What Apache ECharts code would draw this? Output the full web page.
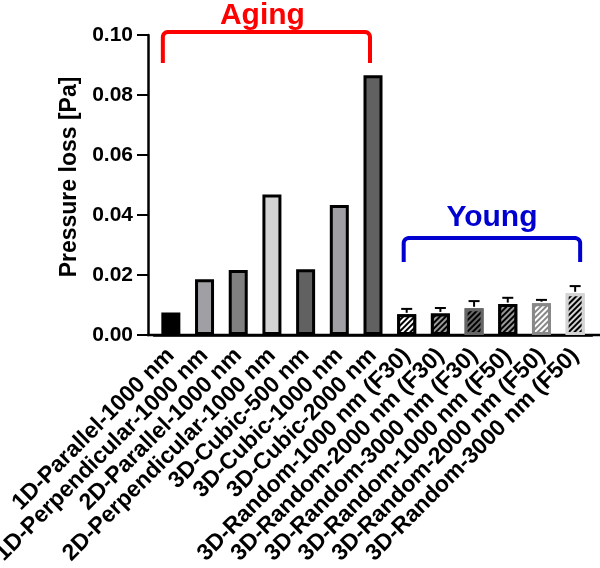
<!DOCTYPE html>
<html>
<head>
<meta charset="utf-8">
<script src="https://cdn.jsdelivr.net/npm/echarts@6/dist/echarts.min.js"></script>
<style>html,body{margin:0;padding:0;background:#fff;}#c{width:600px;height:568px;}</style>
</head>
<body>
<div id="c"></div>
<script>
const categories = [
  '1D-Parallel-1000 nm', '1D-Perpendicular-1000 nm', '2D-Parallel-1000 nm',
  '2D-Perpendicular-1000 nm', '3D-Cubic-500 nm', '3D-Cubic-1000 nm', '3D-Cubic-2000 nm',
  '3D-Random-1000 nm (F30)', '3D-Random-2000 nm (F30)', '3D-Random-3000 nm (F30)',
  '3D-Random-1000 nm (F50)', '3D-Random-2000 nm (F50)', '3D-Random-3000 nm (F50)'
];
const values = [0.0075, 0.0186, 0.0217, 0.0468, 0.0219, 0.0433, 0.0866,
                0.0069, 0.0072, 0.0089, 0.0103, 0.0106, 0.0139];
const errors = [null, null, null, null, null, null, null,
                0.0018, 0.0018, 0.0024, 0.0021, 0.0011, 0.0024];
const yTicks = [0, 0.02, 0.04, 0.06, 0.08, 0.10];
const groupLabels = ['Aging', 'Young'];

// styles (not data)
const fills = ['#000000', '#a0a0a4', '#808080', '#d4d4d4', '#616161', '#a0a0a4', '#616161',
               '#ffffff', '#000000', '#666666', '#000000', '#888888', '#d4d4d4'];
const borders = ['#000', '#000', '#000', '#000', '#000', '#000', '#000',
                 '#000000', '#000000', '#666666', '#000000', '#888888', '#d4d4d4'];
const stripes = [null, null, null, null, null, null, null,
                 '#000000', '#9a9a9a', '#000000', '#9a9a9a', '#ffffff', '#000000'];

const chart = echarts.init(document.getElementById('c'));
const FONT = '"Liberation Sans", Arial, sans-serif';

const barData = values.map((v, i) => {
  const it = { value: v, itemStyle: { color: fills[i], borderColor: borders[i], borderWidth: 3 } };
  if (stripes[i]) {
    it.itemStyle.decal = {
      symbol: 'rect', symbolSize: 1, color: stripes[i], backgroundColor: fills[i],
      dashArrayX: [1, 0], dashArrayY: [2, 2], rotation: -Math.PI / 4
    };
  }
  return it;
});

const errData = values.map((v, i) => [i, v, errors[i]]).filter(d => d[2] != null);

const option = {
  animation: false,
  backgroundColor: '#fff',
  grid: { left: 154, right: 8, top: 35, bottom: 233, containLabel: false, outerBoundsMode: 'none' },
  xAxis: {
    type: 'category', data: categories,
    axisLine: { lineStyle: { color: '#000', width: 2.5 } },
    axisTick: { alignWithLabel: true, length: 10, lineStyle: { color: '#000', width: 2 } },
    axisLabel: { interval: 0, rotate: 45, margin: 17, color: '#000', fontWeight: 'bold',
                 fontSize: 23, fontFamily: FONT }
  },
  yAxis: {
    type: 'value', min: 0, max: 0.1, interval: 0.02, offset: 6,
    name: 'Pressure loss [Pa]', nameLocation: 'middle', nameGap: 54,
    nameTextStyle: { color: '#000', fontWeight: 'bold', fontSize: 23, fontFamily: FONT,
                     padding: [0, 0, 0, 16] },
    axisLine: { show: true, lineStyle: { color: '#000', width: 2.5 } },
    axisTick: { show: true, length: 11, lineStyle: { color: '#000', width: 2 } },
    splitLine: { show: false },
    axisLabel: { color: '#000', fontWeight: 'bold', fontSize: 21, fontFamily: FONT, margin: 15,
                 formatter: v => v.toFixed(2) }
  },
  series: [
    { type: 'bar', data: barData, barWidth: 19 },
    {
      type: 'custom', data: errData, z: 3,
      renderItem: function (params, api) {
        const x = api.value(0), v = api.value(1), e = api.value(2);
        const p0 = api.coord([x, v]);
        const p1 = api.coord([x, v + e]);
        const style = { stroke: '#000', lineWidth: 2 };
        return { type: 'group', children: [
          { type: 'line', shape: { x1: p0[0], y1: p0[1] - 1.5, x2: p1[0], y2: p1[1] }, style },
          { type: 'line', shape: { x1: p1[0] - 5.5, y1: p1[1], x2: p1[0] + 5.5, y2: p1[1] }, style }
        ]};
      }
    }
  ]
};
chart.setOption(option);

// decorations: axis extension and group brackets
const px = (i, v) => chart.convertToPixel({ xAxisIndex: 0, yAxisIndex: 0 }, [i, v]);
const a0 = px(0, 0.101), a1 = px(6, 0.0907);
const y0 = px(7, 0.0323), y1 = px(12, 0.0243);
const base = px(0, 0);
function bracket(xl, xr, yt, yb, color) {
  const r = 5, pts = [[xl, yb]];
  for (let k = 0; k <= 6; k++) {
    const t = Math.PI - k * Math.PI / 12;
    pts.push([xl + r + r * Math.cos(t), yt + r - r * Math.sin(t)]);
  }
  for (let k = 0; k <= 6; k++) {
    const t = Math.PI / 2 - k * Math.PI / 12;
    pts.push([xr - r + r * Math.cos(t), yt + r - r * Math.sin(t)]);
  }
  pts.push([xr, yb]);
  return { type: 'polyline', silent: true, shape: { points: pts },
           style: { fill: null, stroke: color, lineWidth: 4, lineJoin: 'round' } };
}
const ax0 = a0[0] - 8, ax1 = a1[0] - 3;
const yx0 = y0[0] - 3, yx1 = y1[0] + 5;
chart.setOption({
  graphic: [
    { type: 'line', shape: { x1: 147, y1: base[1], x2: 600, y2: base[1] }, style: { stroke: '#000', lineWidth: 2.5 } },
    bracket(ax0, ax1, a0[1], a1[1], '#ff0000'),
    { type: 'text', x: (ax0 + ax1) / 2 - 4, y: a0[1] - 1, style: { text: groupLabels[0], fill: '#ff0000',
      font: 'bold 30px ' + FONT, align: 'center', verticalAlign: 'bottom' } },
    bracket(yx0, yx1, y0[1], y1[1], '#0000d0'),
    { type: 'text', x: (yx0 + yx1) / 2, y: y0[1] - 5, style: { text: groupLabels[1], fill: '#0000d0',
      font: 'bold 30px ' + FONT, align: 'center', verticalAlign: 'bottom' } }
  ]
});
</script>
</body>
</html>
